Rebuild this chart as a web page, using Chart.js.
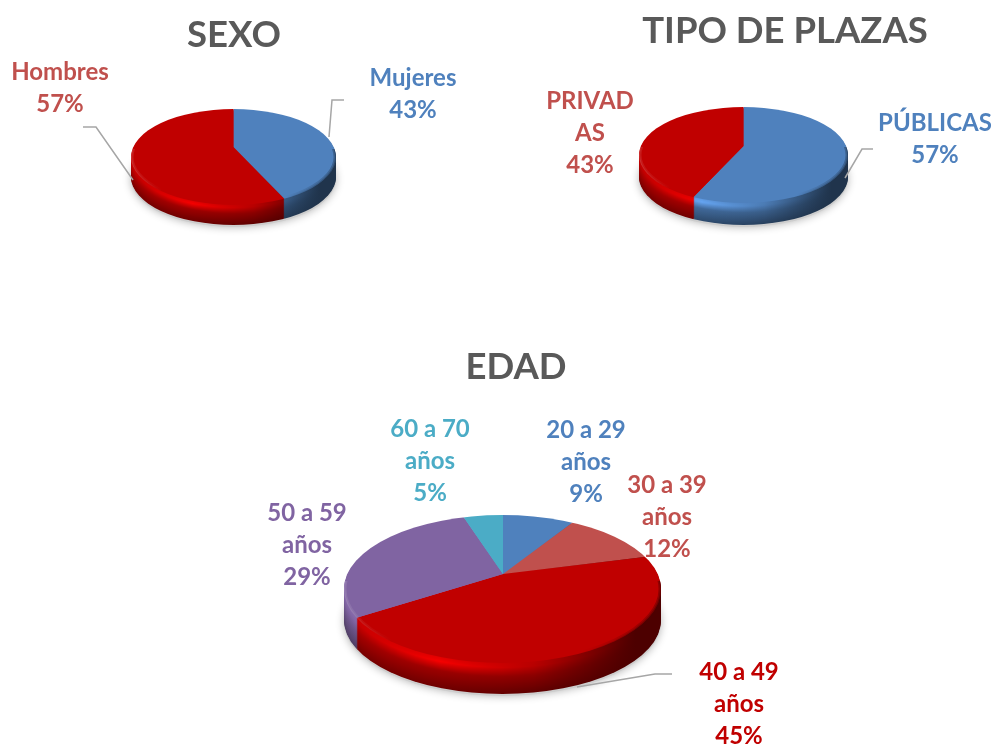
<!DOCTYPE html>
<html>
<head>
<meta charset="utf-8">
<script src="https://cdn.jsdelivr.net/npm/chart.js@4"></script>
<style>
    html, body { margin: 0; background: #fff; overflow: hidden; width: 992px; height: 744px; }
    canvas { position: absolute; }
</style>
</head>
<body>
<canvas id="sexo"></canvas>
<canvas id="plazas"></canvas>
<canvas id="edad"></canvas>
<script>
// Datos
const sexoLabels = ['Mujeres', 'Hombres'];
const sexoValues = [43, 57];
const plazasLabels = ['PÚBLICAS', 'PRIVAD\nAS'];
const plazasValues = [57, 43];
const edadLabels = ['20 a 29\naños', '30 a 39\naños', '40 a 49\naños', '50 a 59\naños', '60 a 70\naños'];
const edadValues = [9, 12, 45, 29, 5];

const BLUE = '#4F81BD', RED = '#C00000', SALMON = '#C0504D', PURPLE = '#8064A2', CYAN = '#4BACC6';
const FONT = 'Lato';

// Aclara u oscurece un color
function shade(hex, f) {
    const n = parseInt(hex.slice(1), 16);
    const c = [n >> 16, (n >> 8) & 255, n & 255].map(v => Math.min(255, Math.round(v * f)));
    return `rgb(${c[0]},${c[1]},${c[2]})`;
}

function ellipsePath(ctx, s, dy) {
    ctx.beginPath();
    ctx.ellipse(s.ex, s.ey + dy, s.rx, s.ry, 0, 0, Math.PI * 2);
}

// Transformación que aplasta el pastel y lleva su centro al vértice de la figura
function pieTransform(ctx, s, arc, dy) {
    const sx = s.rx * 1.4 / arc.outerRadius;
    ctx.translate(s.ax, s.ay + dy);
    ctx.scale(sx, sx * s.k);
    ctx.translate(-arc.x, -arc.y);
}

const pie3d = {
    id: 'pie3d',
    beforeDatasetsDraw(chart, args, s) {
        const ctx = chart.ctx;
        const arcs = chart.getDatasetMeta(0).data;
        const colors = chart.data.datasets[0].backgroundColor;

        // sombra
        ctx.save();
        ctx.shadowColor = 'rgba(0,0,0,0.3)';
        ctx.shadowBlur = 9;
        ctx.fillStyle = 'rgba(205,205,205,1)';
        ellipsePath(ctx, s, s.depth + 2);
        ctx.fill();
        ctx.restore();

        // lateral: capas de abajo hacia arriba, con brillo suave cerca del borde
        for (let off = s.depth; off >= 1; off--) {
            const t = off / s.depth;
            const glow = Math.max(0, 1 - Math.abs(t - 0.16) / 0.3);
            const body = 1.0 - 0.42 * t;
            arcs.forEach((arc, i) => {
                const grad = ctx.createLinearGradient(s.ex - s.rx, 0, s.ex + s.rx, 0);
                grad.addColorStop(0, shade(colors[i], body + 0.05));
                grad.addColorStop(0.3, shade(colors[i], body + 0.35 * glow));
                grad.addColorStop(0.6, shade(colors[i], body - 0.08 + 0.1 * glow));
                grad.addColorStop(0.92, shade(colors[i], 0.4));
                ctx.save();
                ellipsePath(ctx, s, off);
                ctx.clip();
                const base = ctx.getTransform();
                pieTransform(ctx, s, arc, off);
                ctx.beginPath();
                ctx.moveTo(arc.x, arc.y);
                ctx.arc(arc.x, arc.y, arc.outerRadius, arc.startAngle, arc.endAngle);
                ctx.closePath();
                ctx.setTransform(base);
                ctx.fillStyle = grad;
                ctx.fill();
                ctx.restore();
            });
        }

        // cara superior: la dibuja Chart.js, recortada a la elipse
        ctx.save();
        ellipsePath(ctx, s, 0);
        ctx.clip();
        pieTransform(ctx, s, arcs[0], 0);
    },
    afterDatasetsDraw(chart, args, s) {
        const ctx = chart.ctx;
        ctx.restore();

        // bisel del borde
        ctx.save();
        ellipsePath(ctx, s, 0);
        ctx.clip();
        const rim = ctx.createLinearGradient(s.ex - s.rx, 0, s.ex + s.rx, 0);
        rim.addColorStop(0, 'rgba(255,255,255,0.1)');
        rim.addColorStop(0.15, 'rgba(255,255,255,0)');
        rim.addColorStop(0.75, 'rgba(0,0,0,0)');
        rim.addColorStop(1, 'rgba(0,0,0,0.25)');
        ctx.strokeStyle = rim;
        ctx.beginPath();
        ctx.rect(s.ex - s.rx - 2, s.ey - 8, s.rx * 2 + 4, s.ry + 12);
        ctx.clip();
        [2, 5].forEach(w => {
            ctx.lineWidth = w;
            ellipsePath(ctx, s, 0);
            ctx.stroke();
        });
        ctx.restore();

        // líneas guía
        ctx.strokeStyle = '#A6A6A6';
        ctx.lineWidth = 1.5;
        s.leaders.forEach(pts => {
            ctx.beginPath();
            pts.forEach((p, i) => i ? ctx.lineTo(p[0], p[1]) : ctx.moveTo(p[0], p[1]));
            ctx.stroke();
        });

        // etiquetas
        ctx.font = `bold ${s.labelSize}px ${FONT}`;
        ctx.textAlign = 'center';
        ctx.textBaseline = 'middle';
        chart.data.labels.forEach((label, i) => {
            const lines = label.split('\n').concat(chart.data.datasets[0].data[i] + '%');
            ctx.fillStyle = s.labelColors[i];
            lines.forEach((line, j) => {
                ctx.fillText(line, s.labelPos[i][0], s.labelPos[i][1] + j * s.lineStep);
            });
        });
    }
};

function makePie(id, title, labels, values, colors, box, titleTop, shape) {
    const canvas = document.getElementById(id);
    canvas.style.left = box[0] + 'px';
    canvas.style.top = box[1] + 'px';
    canvas.width = box[2];
    canvas.height = box[3];

    // las coordenadas de la forma son de la página: pasarlas al canvas
    const local = p => [p[0] - box[0], p[1] - box[1]];
    const s = Object.assign({}, shape, {
        ex: shape.ex - box[0], ey: shape.ey - box[1],
        ax: shape.ax - box[0], ay: shape.ay - box[1],
        labelPos: shape.labelPos.map(local),
        leaders: shape.leaders.map(l => l.map(local)),
        labelSize: 24, lineStep: 32
    });

    return new Chart(canvas, {
        type: 'pie',
        data: {
            labels: labels,
            datasets: [{ data: values, backgroundColor: colors, borderWidth: 0, clip: false }]
        },
        options: {
            responsive: false,
            animation: false,
            events: [],
            plugins: {
                legend: { display: false },
                tooltip: { enabled: false },
                title: {
                    display: true,
                    text: title,
                    color: '#595959',
                    font: { family: FONT, size: 36.5, weight: 'bold' },
                    padding: { top: titleTop, bottom: 0 }
                },
                pie3d: s
            }
        },
        plugins: [pie3d]
    });
}

makePie('sexo', 'SEXO', sexoLabels, sexoValues, [BLUE, RED], [0, 0, 468, 250], 13, {
    ex: 233.5, ey: 157, rx: 102.5, ry: 48, ax: 233.5, ay: 147, k: 0.48, depth: 20,
    labelColors: [BLUE, SALMON],
    labelPos: [[413, 78], [60, 72]],
    leaders: [[[344, 100], [332, 100], [329, 137]], [[83, 127], [96, 127], [133, 180]]]
});

makePie('plazas', 'TIPO DE PLAZAS', plazasLabels, plazasValues, [BLUE, RED], [535, 0, 500, 250], 9, {
    ex: 743.5, ey: 155, rx: 104.5, ry: 48, ax: 743.5, ay: 146, k: 0.48, depth: 22,
    labelColors: [BLUE, SALMON],
    labelPos: [[935, 123], [590, 101]],
    leaders: [[[873, 149], [862, 149], [845, 178]]]
});

makePie('edad', 'EDAD', edadLabels, edadValues, [BLUE, SALMON, RED, PURPLE, CYAN], [240, 340, 552, 404], 5, {
    ex: 502.5, ey: 589, rx: 158.5, ry: 74, ax: 503, ay: 574, k: 0.47, depth: 31,
    labelColors: [BLUE, SALMON, RED, PURPLE, CYAN],
    labelPos: [[586, 430], [667, 485], [739, 672], [307, 513], [430, 429]],
    leaders: [[[672, 674], [655, 674], [577, 687]]]
});
</script>
</body>
</html>
